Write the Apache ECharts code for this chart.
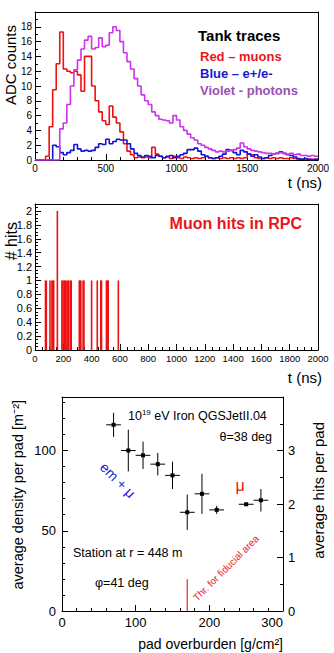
<!DOCTYPE html>
<html>
<head>
<meta charset="utf-8">
<script src="https://cdn.jsdelivr.net/npm/echarts@6/dist/echarts.min.js"></script>
<style>
  html, body { margin: 0; padding: 0; background: #fff; }
  #main { width: 334px; height: 653px; }
</style>
</head>
<body>
<div id="main"></div>
<script>
// 直方图 bin 宽度 (ns), 0 - 2000 ns 共 80 个 bin
const binWidth = 25
// 红色 - muons
const muonTrace = [
  0, 0, 0, 0.5, 4.5, 9.5, 13, 17.3, 12.3, 12,
  11.8, 12, 11.5, 9.3, 14, 14, 10, 8, 6.5, 5.3,
  4.8, 7.3, 5.8, 5, 3.8, 2.2, 1.2, 0.7, 0.3, 0.4,
  0.3, 0.4, 0.3, 1.7, 0.8, 0.5, 0.3, 0.4, 0.2, 0.5,
  0.3, 0.2, 0.4, 0.3, 0.2, 0.3, 0.2, 0.3, 0.5, 0.3,
  0.2, 0.3, 0.2, 0.3, 0.2, 0.3, 0.2, 0.3, 0.2, 0.3,
  0.8, 0.7, 0.3, 0.2, 0.2, 0.3, 0.2, 0.3, 0.2, 0.3,
  0.2, 0.2, 0.3, 0.2, 0.1, 0.1, 0.1, 0.1, 0.1, 0.1
]
// 蓝色 - e+/e-
const emTrace = [
  0, 0, 0, 0, 0, 2, 1.8, 1, 0.7, 1,
  1.3, 2.1, 1.5, 1.2, 1.3, 1.2, 1.3, 1.7, 2.2, 2.1,
  2.8, 2.2, 2.5, 2.8, 2.7, 2.7, 2.2, 1.5, 0.9, 0.6,
  0.4, 0.6, 0.5, 0.3, 0.6, 0.5, 0.3, 0.5, 0.6, 0.3,
  0.5, 0.7, 0.9, 1.4, 1.4, 1.6, 1.2, 0.7, 0.5, 0.3,
  0.2, 0.3, 0.5, 0.8, 1.4, 1.3, 1, 0.7, 1.3, 1.1,
  0.8, 0.5, 0.7, 0.4, 0.2, 0.3, 0.6, 0.8, 0.9, 1.1,
  0.9, 0.7, 0.6, 0.4, 0.2, 0.1, 0.2, 0.1, 0, 0.1
]
// 紫色 - photons
const photonTrace = [
  0, 0, 0, 0, 0, 0, 0, 4.2, 5, 7.5,
  10, 12.2, 13.5, 15, 16.2, 16.7, 15, 15.2, 16.5, 15.3,
  15.5, 17.2, 18, 17.5, 16, 14.5, 13.3, 12.3, 11, 10,
  8.8, 8, 7.5, 6.5, 6, 5.5, 5.4, 5.3, 5, 6,
  5.4, 4.5, 4, 3.5, 3, 2.7, 2.2, 2, 1.7, 1.5,
  1.3, 1.1, 1.2, 1.1, 1.2, 1.3, 1.4, 1.6, 2.3, 1.8,
  1.5, 1.3, 1.2, 1.1, 1, 0.9, 0.9, 0.8, 0.9, 1,
  0.9, 0.8, 0.9, 0.7, 0.8, 0.6, 0.6, 0.5, 0.6, 0.5
]

// RPC 中的 muon 击中时间 (ns) 和次数
const hitTimes = [74, 80, 106, 120, 126, 132, 158, 190, 198, 207, 213, 220, 232, 238, 250, 256,
  313, 318, 324, 340, 346, 400, 440, 465, 470, 505, 512, 517, 589]
const hitCounts = [1, 1, 1, 1, 1, 1, 2, 1, 1, 1, 1, 1, 1, 1, 1, 1,
  1, 1, 1, 1, 1, 1, 1, 1, 1, 1, 1, 1, 1]

// 下图: pad overburden vs 平均密度
const padOverburden = [70, 90, 110, 130, 150, 170, 190, 210, 250, 270]
const padDensity = [116, 100, 97, 91.5, 84.5, 61.5, 73, 63, 66.5, 69]
const densityErr = [7.5, 13, 8.5, 7, 8.5, 11, 12.5, 2.5, 1, 7]
const overburdenErr = [10, 10, 10, 10, 10, 10, 10, 10, 10, 10]
// fiducial 阈值线
const thresholdX = [170, 170]
const thresholdY = [0, 19.8]

const font = 'Liberation Sans, Arial, Helvetica, sans-serif'

// 直方图转成阶梯线的点
function toSteps (values) {
  const pts = values.map((v, i) => [i * binWidth, v])
  pts.push([values.length * binWidth, values[values.length - 1]])
  return pts
}

// 刻度文字, 不要千分位
function plain (limit) {
  return v => (v > limit ? '' : String(v))
}

// 一个带刻度的坐标轴 (ROOT 风格, 刻度朝内)
function tickAxis (opt) {
  return Object.assign({
    type: 'value',
    axisLine: { show: true, onZero: false, lineStyle: { color: '#000', width: 1 } },
    axisTick: { show: true, inside: true, length: 6, lineStyle: { color: '#000' } },
    minorTick: { show: true, length: 3, lineStyle: { color: '#000' } },
    splitLine: { show: false }
  }, opt)
}
// 只画框线的坐标轴
function frameAxis (opt) {
  return Object.assign({
    type: 'value',
    axisLine: { show: true, onZero: false, lineStyle: { color: '#000', width: 1 } },
    axisTick: { show: false },
    axisLabel: { show: false },
    splitLine: { show: false }
  }, opt)
}
function minor (n) {
  return { show: true, splitNumber: n, length: 3, lineStyle: { color: '#000' } }
}
function label (size, margin, formatter, extra) {
  return Object.assign({ color: '#000', fontFamily: font, fontSize: size, margin: margin, formatter: formatter }, extra || {})
}

// 文字 (可旋转)
function txt (x, y, text, size, color, align, rotation, bold) {
  return {
    type: 'text',
    x: x,
    y: y,
    rotation: rotation || 0,
    style: {
      text: text,
      fontFamily: font,
      fontSize: size,
      fontWeight: bold ? 'bold' : 'normal',
      fill: color || '#000',
      align: align || 'left',
      verticalAlign: 'middle'
    }
  }
}

const chart = echarts.init(document.getElementById('main'), null, { renderer: 'svg' })

const option = {
  animation: false,
  backgroundColor: '#fff',
  grid: [
    { left: 35, top: 12, width: 283, height: 148 },
    { left: 35, top: 204, width: 283, height: 146 },
    { left: 62, top: 397, width: 221, height: 214 }
  ],
  xAxis: [
    tickAxis({ gridIndex: 0, min: 0, max: 2000, interval: 500, minorTick: minor(5), axisLabel: label(10, 3, plain(2000)) }),
    frameAxis({ gridIndex: 0, position: 'top', min: 0, max: 2000 }),
    tickAxis({ gridIndex: 1, min: 0, max: 2000, interval: 200, minorTick: minor(4), axisLabel: label(9.5, 3, plain(2000)) }),
    frameAxis({ gridIndex: 1, position: 'top', min: 0, max: 2000 }),
    tickAxis({
      gridIndex: 2, min: 0, max: 300, interval: 100, minorTick: minor(5),
      axisLabel: label(13, 5, plain(300), { alignMaxLabel: 'right' })
    }),
    frameAxis({ gridIndex: 2, position: 'top', min: 0, max: 300 })
  ],
  yAxis: [
    tickAxis({ gridIndex: 0, min: 0, max: 20, interval: 2, minorTick: minor(2), axisLabel: label(10, 3, plain(18.5)) }),
    frameAxis({ gridIndex: 0, position: 'right', min: 0, max: 20 }),
    tickAxis({ gridIndex: 1, min: 0, max: 2.1, interval: 0.2, minorTick: minor(4), axisLabel: label(11, 3, plain(2.05)) }),
    frameAxis({ gridIndex: 1, position: 'right', min: 0, max: 2.1 }),
    tickAxis({ gridIndex: 2, min: 0, max: 400 / 3, interval: 50, minorTick: minor(5), axisLabel: label(13, 6, plain(101)) }),
    tickAxis({ gridIndex: 2, position: 'right', min: 0, max: 4, interval: 1, minorTick: minor(2), axisLabel: label(13, 5, plain(3.5)) })
  ],
  series: [
    {
      name: 'muons',
      type: 'line',
      xAxisIndex: 0,
      yAxisIndex: 0,
      step: 'end',
      showSymbol: false,
      lineStyle: { color: '#ee1111', width: 1.6 },
      data: toSteps(muonTrace)
    },
    {
      name: 'e+/e-',
      type: 'line',
      xAxisIndex: 0,
      yAxisIndex: 0,
      step: 'end',
      showSymbol: false,
      lineStyle: { color: '#1414d8', width: 1.6 },
      data: toSteps(emTrace)
    },
    {
      name: 'photons',
      type: 'line',
      xAxisIndex: 0,
      yAxisIndex: 0,
      step: 'end',
      showSymbol: false,
      lineStyle: { color: '#cc33ee', width: 1.6 },
      data: toSteps(photonTrace)
    },
    {
      name: 'RPC hits',
      type: 'bar',
      xAxisIndex: 2,
      yAxisIndex: 2,
      barWidth: 1.6,
      itemStyle: { color: '#ee1111' },
      data: hitTimes.map((t, i) => [t, hitCounts[i]])
    },
    {
      name: 'profile',
      type: 'custom',
      xAxisIndex: 4,
      yAxisIndex: 4,
      renderItem (params, api) {
        const x = api.value(0)
        const y = api.value(1)
        const ex = api.value(2)
        const ey = api.value(3)
        const c = api.coord([x, y])
        const l = api.coord([x - ex, y])
        const r = api.coord([x + ex, y])
        const t = api.coord([x, y + ey])
        const b = api.coord([x, y - ey])
        const ls = { stroke: '#000', lineWidth: 1 }
        return {
          type: 'group',
          children: [
            { type: 'line', shape: { x1: l[0], y1: c[1], x2: r[0], y2: c[1] }, style: ls },
            { type: 'line', shape: { x1: c[0], y1: t[1], x2: c[0], y2: b[1] }, style: ls },
            { type: 'rect', shape: { x: c[0] - 2, y: c[1] - 2, width: 4, height: 4 }, style: { fill: '#000' } }
          ]
        }
      },
      data: padOverburden.map((x, i) => [x, padDensity[i], overburdenErr[i], densityErr[i]])
    },
    {
      name: 'threshold',
      type: 'line',
      xAxisIndex: 4,
      yAxisIndex: 4,
      showSymbol: false,
      lineStyle: { color: '#ee2222', width: 1.2 },
      data: thresholdX.map((x, i) => [x, thresholdY[i]])
    }
  ],
  graphic: [
    // 上图
    txt(10, 25, 'ADC counts', 15, '#000', 'right', Math.PI / 2),
    txt(322, 182, 't (ns)', 15, '#000', 'right'),
    txt(198, 35, 'Tank traces', 15, '#000', 'left', 0, true),
    txt(200, 56, 'Red – muons', 13, '#e8161b', 'left', 0, true),
    txt(200, 73, 'Blue – e+/e-', 13, '#1818d0', 'left', 0, true),
    txt(200, 90, 'Violet - photons', 13, '#9a4fb5', 'left', 0, true),
    // 中图
    txt(11, 222, '# hits', 16, '#000', 'right', Math.PI / 2),
    txt(302, 223, 'Muon hits in RPC', 16, '#e8161b', 'right', 0, true),
    txt(322, 377, 't (ns)', 15, '#000', 'right'),
    // 下图
    txt(18, 400, 'average density per pad [m⁻²]', 14.5, '#000', 'right', Math.PI / 2),
    txt(318, 422, 'average hits per pad', 15, '#000', 'right', Math.PI / 2),
    txt(283, 644, 'pad overburden [g/cm²]', 14, '#000', 'right'),
    {
      type: 'text',
      x: 128,
      y: 416,
      style: {
        text: '{n|10}{s|19}{n| eV Iron QGSJetII.04}',
        fontFamily: font,
        align: 'left',
        verticalAlign: 'middle',
        rich: {
          n: { fontFamily: font, fontSize: 12.5, fill: '#000', color: '#000', lineHeight: 16 },
          s: { fontFamily: font, fontSize: 8, fill: '#000', color: '#000', verticalAlign: 'top', lineHeight: 16 }
        }
      }
    },
    txt(272, 437, 'θ=38 deg', 12.5, '#000', 'right'),
    txt(118, 480, 'em + μ', 14, '#2020e0', 'center', -Math.PI / 4),
    txt(240, 485, 'μ', 16, '#ee1111', 'center'),
    txt(73, 553, 'Station at r = 448 m', 12.5),
    txt(95, 583, 'φ=41 deg', 12.5),
    txt(226, 568, 'Thr. for fiducial area', 10, '#ee2222', 'center', Math.PI / 4)
  ]
}

chart.setOption(option)
</script>
</body>
</html>
